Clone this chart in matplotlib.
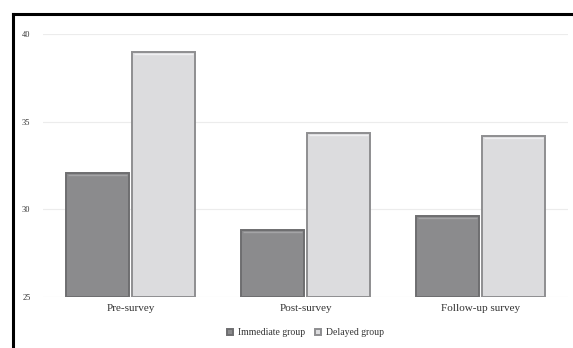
import matplotlib
matplotlib.use("Agg")
import matplotlib.pyplot as plt
import numpy as np
from matplotlib.lines import Line2D

_DARK = "#8b8b8d"
_DARK_EDGE = "#6e6e70"
_LIGHT = "#dcdcde"
_LIGHT_EDGE = "#8e8e90"
_GRID = "#ececec"
_TEXT = "#333333"

categories = ["Pre-survey", "Post-survey", "Follow-up survey"]
immediate = [32.1, 28.8, 29.6]
delayed = [39.0, 34.35, 34.2]
series_names = ["Immediate group", "Delayed group"]
yticks = [25, 30, 35, 40]

plt.rcParams["font.family"] = ["Liberation Serif", "DejaVu Serif"]

fig = plt.figure(figsize=(5.73, 3.48), dpi=100)
ax = fig.add_axes([43 / 573, 1 - 297 / 348, 525 / 573, 263 / 348])

x = np.arange(len(categories))
w = 0.36
off = 0.19
base = yticks[0]
b1 = ax.bar(x - off, np.array(immediate) - base, bottom=base, width=w,
            color=_DARK, edgecolor=_DARK_EDGE, linewidth=1.4,
            label=series_names[0], zorder=3)
b2 = ax.bar(x + off, np.array(delayed) - base, bottom=base, width=w,
            color=_LIGHT, edgecolor=_LIGHT_EDGE, linewidth=1.4,
            label=series_names[1], zorder=3)

# thin highlight along the top of each bar for a bevelled look
for bars, hl in ((b1, "#a4a4a6"), (b2, "#f0f0f2")):
    for r in bars:
        x0, x1 = r.get_x(), r.get_x() + r.get_width()
        top = r.get_y() + r.get_height()
        ax.plot([x0 + 0.012, x1 - 0.012], [top - 0.12, top - 0.12],
                color=hl, linewidth=1.0, zorder=4, solid_capstyle="butt")

ax.set_xlim(-0.5, len(categories) - 0.5)
ax.set_ylim(25, 40)
ax.set_yticks(yticks)
ax.set_xticks(x)
ax.set_xticklabels(categories, fontsize=8, color=_TEXT)
ax.tick_params(axis="y", labelsize=6, colors=_TEXT, length=0, pad=9)
ax.tick_params(axis="x", length=0, pad=5)
ax.grid(axis="y", color=_GRID, linewidth=0.8, zorder=0)
for s in ax.spines.values():
    s.set_visible(False)

ax.legend(loc="upper center", bbox_to_anchor=(0.5, -0.085), ncol=2,
          frameon=False, fontsize=7, handlelength=0.6, handleheight=0.6,
          handletextpad=0.5, columnspacing=1.0, labelcolor=_TEXT)

# frame lines on the left and top
fig.add_artist(Line2D([13 / 573, 13 / 573], [0, 1 - 14 / 348],
                      color="black", linewidth=2.2, transform=fig.transFigure))
fig.add_artist(Line2D([13 / 573, 1], [1 - 14 / 348, 1 - 14 / 348],
                      color="black", linewidth=2.2, transform=fig.transFigure))

fig.savefig("out.png", dpi=100)
